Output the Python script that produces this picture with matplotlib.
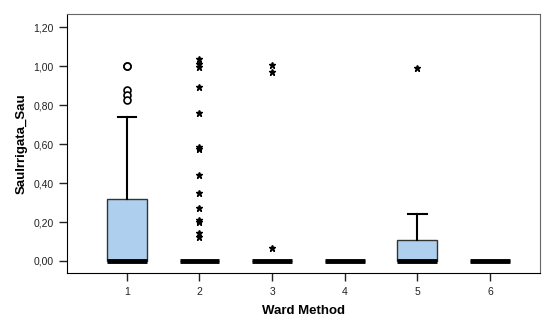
import matplotlib
matplotlib.use("Agg")
import matplotlib.pyplot as plt

plt.rcParams['font.family'] = ['Liberation Sans', 'DejaVu Sans']

groups = ["1", "2", "3", "4", "5", "6"]
q1 = [0, 0, 0, 0, 0, 0]
med = [0, 0, 0, 0, 0, 0]
q3 = [0.32, 0, 0, 0, 0.11, 0]
whislo = [0, 0, 0, 0, 0, 0]
whishi = [0.74, 0, 0, 0, 0.24, 0]
# outliers (circles) and extremes (stars)
outliers = [[1.0, 1.0, 0.877, 0.851, 0.826], [], [], [], [], []]
extremes = [[],
            [1.034, 1.013, 0.996, 0.894, 0.757, 0.586, 0.573, 0.441, 0.347, 0.270, 0.210, 0.200, 0.142, 0.125],
            [1.005, 0.971, 0.065],
            [],
            [0.988],
            []]
yticks = [0.0, 0.2, 0.4, 0.6, 0.8, 1.0, 1.2]
ytick_labels = ["0,00", "0,20", "0,40", "0,60", "0,80", "1,00", "1,20"]

fig = plt.figure(figsize=(5.44, 3.2), dpi=100)
ax = fig.add_axes([0.123, 0.147, 0.870, 0.809])

stats = []
for i in range(len(groups)):
    stats.append(dict(label=groups[i], q1=q1[i], med=med[i], q3=q3[i],
                      whislo=whislo[i], whishi=whishi[i], fliers=[]))
pos = list(range(1, len(groups) + 1))
ax.bxp(stats, positions=pos, widths=0.55, patch_artist=True, showfliers=False,
       boxprops=dict(facecolor="#aed0ee", edgecolor="#333333", linewidth=1.0),
       medianprops=dict(color="black", linewidth=3.5, solid_capstyle="butt"),
       whiskerprops=dict(color="black", linewidth=1.5),
       capprops=dict(color="black", linewidth=1.5),
       capwidths=0.25)

for i, p in enumerate(pos):
    if outliers[i]:
        ax.plot([p] * len(outliers[i]), outliers[i], linestyle="none", marker="o",
                markersize=5, markerfacecolor="white", markeredgecolor="black",
                markeredgewidth=1.2)
    if extremes[i]:
        ax.plot([p] * len(extremes[i]), extremes[i], linestyle="none", marker="*",
                markersize=4.5, color="black")

ax.set_xlim(0.175, 6.69)
ax.set_ylim(-0.0615, 1.267)
ax.set_yticks(yticks)
ax.set_yticklabels(ytick_labels)
ax.set_xticks(pos)
ax.set_xticklabels(groups)
ax.tick_params(axis="both", labelsize=7.5, colors="#222222", length=6, width=1)
ax.tick_params(axis="x", pad=4)
ax.set_xlabel("Ward Method", fontsize=9.5, fontweight="bold", labelpad=6)
ax.set_ylabel("SauIrrigata_Sau", fontsize=9.5, fontweight="bold")
for s in ["top", "right"]:
    ax.spines[s].set_color("#666666")
for s in ["left", "bottom"]:
    ax.spines[s].set_color("black")

fig.savefig("out.png", dpi=100)
